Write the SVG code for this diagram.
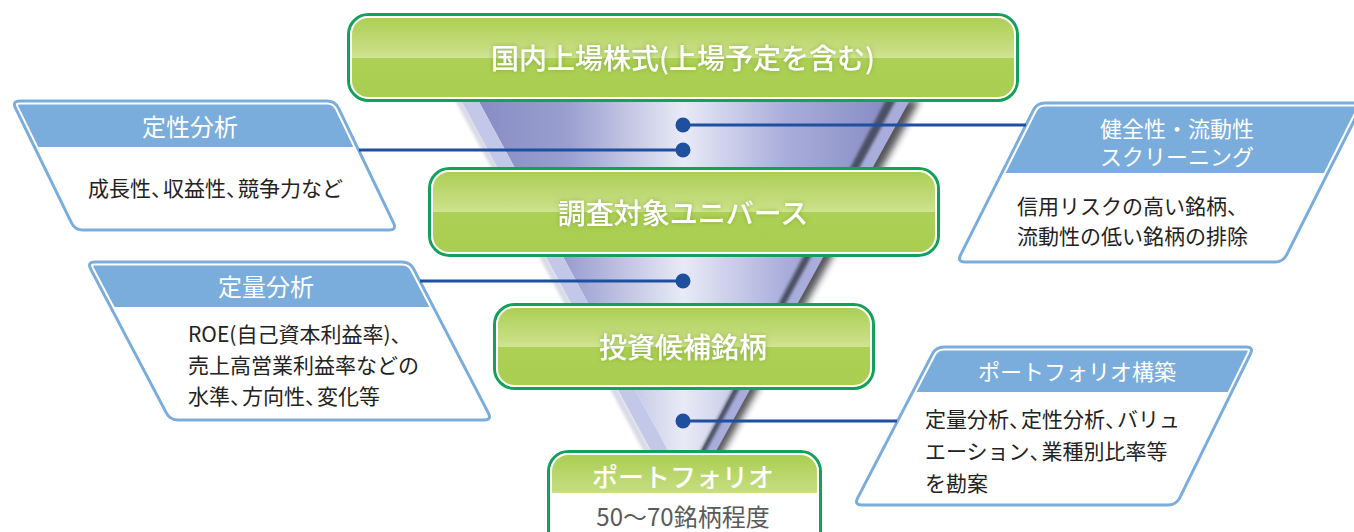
<svg xmlns="http://www.w3.org/2000/svg" width="1354" height="532" viewBox="0 0 1354 532">
<style>
  text { font-family: "Noto Sans CJK JP", "Noto Sans", sans-serif; }
  .gt { fill: #ffffff; font-size: 28px; font-weight: 500; text-anchor: middle; dominant-baseline: central; }
  .ht { fill: #ffffff; font-size: 24px; text-anchor: middle; dominant-baseline: central; }
  .bt { fill: #222222; font-size: 21px; dominant-baseline: central; }
  .cm { letter-spacing: -9px; }
  .gbox { fill: url(#green); stroke: #12a05c; stroke-width: 3; }
  .gin { fill: none; stroke: #ffffff; stroke-width: 2; }
  .pw { fill: #ffffff; }
  .ph { fill: #7aaddc; }
  .pgap { fill: none; stroke: #ffffff; stroke-width: 7; }
  .pb { fill: none; stroke: #7aaddc; stroke-width: 3; }
  .conn { stroke: #1f4f9f; stroke-width: 3; fill: none; }
  .dot { fill: #1f4f9f; }
</style>
<defs>
  <linearGradient id="green" x1="0" y1="0" x2="0" y2="1">
    <stop offset="0" stop-color="#a9ce50"/>
    <stop offset="0.42" stop-color="#c8de83"/>
    <stop offset="0.5" stop-color="#d0e591"/>
    <stop offset="0.505" stop-color="#add156"/>
    <stop offset="1" stop-color="#a8cd4f"/>
  </linearGradient>
  <linearGradient id="funnel" gradientUnits="userSpaceOnUse" x1="478" y1="0" x2="889" y2="0">
    <stop offset="0" stop-color="#878dc4"/>
    <stop offset="0.22" stop-color="#9a9fd0"/>
    <stop offset="0.5" stop-color="#e9eaf6"/>
    <stop offset="0.75" stop-color="#a9addb"/>
    <stop offset="1" stop-color="#868cc3"/>
  </linearGradient>
  <filter id="blur3" x="-20%" y="-20%" width="140%" height="140%">
    <feGaussianBlur stdDeviation="3.5"/>
  </filter>
  <filter id="blur1" x="-20%" y="-20%" width="140%" height="140%">
    <feGaussianBlur stdDeviation="1.5"/>
  </filter>
  <filter id="glow" x="-10%" y="-40%" width="120%" height="180%">
    <feGaussianBlur in="SourceAlpha" stdDeviation="2.5" result="b"/>
    <feFlood flood-color="#5f8a1c" flood-opacity="0.55"/>
    <feComposite operator="in" in2="b" result="g"/>
    <feMerge><feMergeNode in="g"/><feMergeNode in="SourceGraphic"/></feMerge>
  </filter>
  <path id="p1" d="M20,101 L327,101 Q335,101 338.5,108.2 L393.5,222.8 Q397,230 389,230 L83,230 Q75,230 71.5,222.8 L15.5,108.2 Q12,101 20,101 Z"/>
  <path id="p2" d="M95,262 L402,262 Q410,262 413.7,269.1 L488.3,412.9 Q492,420 484,420 L178,420 Q170,420 166.3,412.9 L90.7,269.1 Q87,262 95,262 Z"/>
  <path id="p3" d="M1045,103 L1355,103 Q1363,103 1359.4,110.1 L1286.6,254.9 Q1283,262 1275,262 L965,262 Q957,262 960.6,254.9 L1033.4,110.1 Q1037,103 1045,103 Z"/>
  <path id="p4" d="M944,347 L1246,347 Q1254,347 1250.3,354.1 L1179.7,497.9 Q1176,505 1168,505 L862,505 Q854,505 857.7,497.9 L932.3,354.1 Q936,347 944,347 Z"/>
  <clipPath id="c1"><rect x="0" y="0" width="500" height="147"/></clipPath>
  <clipPath id="c2"><rect x="0" y="200" width="600" height="107"/></clipPath>
  <clipPath id="c3"><rect x="900" y="0" width="454" height="173"/></clipPath>
  <clipPath id="c4"><rect x="800" y="300" width="554" height="92"/></clipPath>
  <clipPath id="cb"><rect x="552" y="455" width="265" height="38"/></clipPath>
</defs>

<g id="funnel-shape">
  <polygon points="455,100 462,100 668,482 660,482" fill="#9096b8" opacity="0.35" filter="url(#blur1)"/>
  <polygon points="900,100 920,100 706,482 692,482" fill="#1e1e24" opacity="0.75" filter="url(#blur3)"/>
  <polygon points="889,100 910,100 699,482 684,482" fill="#a9addb"/>
  <polygon points="478,100 889,100 684,480" fill="url(#funnel)"/>
  <polygon points="461,100 478,100 684,480 668,482" fill="#c3c8e8"/>
  <polygon points="886,100 896,100 689,482 684,482" fill="#4c4f63" filter="url(#blur1)"/>
</g>

<g id="node-top">
  <rect class="gbox" x="348.5" y="14.5" width="669" height="86" rx="20"/>
  <rect class="gin" x="351" y="17" width="664" height="81" rx="17.5"/>
  <text class="gt" x="683" y="57" filter="url(#glow)">国内上場株式(上場予定を含む)</text>
</g>

<g id="node-universe">
  <rect class="gbox" x="429.5" y="168.5" width="509" height="87" rx="20"/>
  <rect class="gin" x="432" y="171" width="504" height="82" rx="17.5"/>
  <text class="gt" x="683" y="212" filter="url(#glow)">調査対象ユニバース</text>
</g>

<g id="node-candidates">
  <rect class="gbox" x="494.5" y="304.5" width="379" height="84" rx="20"/>
  <rect class="gin" x="497" y="307" width="374" height="79" rx="17.5"/>
  <text class="gt" x="683" y="346" filter="url(#glow)">投資候補銘柄</text>
</g>

<g id="node-portfolio">
  <rect x="548.5" y="451.5" width="272" height="100" rx="20" fill="#ffffff" stroke="#12a05c" stroke-width="3"/>
  <rect x="551" y="454" width="267" height="95" rx="17.5" fill="url(#green)" clip-path="url(#cb)"/>
  <rect class="gin" x="551" y="454" width="267" height="95" rx="17.5"/>
  <text class="gt" x="683" y="475" style="font-size:26px">ポートフォリオ</text>
  <text x="683" y="515" style="font-size:24px;fill:#5a5a5a;text-anchor:middle;dominant-baseline:central">50〜70銘柄程度</text>
</g>

<g id="node-qualitative">
  <use href="#p1" class="pw"/>
  <use href="#p1" class="ph" clip-path="url(#c1)"/>
  <use href="#p1" class="pgap"/>
  <use href="#p1" class="pb"/>
  <text class="ht" x="190" y="125">定性分析</text>
  <text class="bt" x="88" y="187">成長性<tspan class="cm">、</tspan>収益性<tspan class="cm">、</tspan>競争力など</text>
</g>

<g id="node-quantitative">
  <use href="#p2" class="pw"/>
  <use href="#p2" class="ph" clip-path="url(#c2)"/>
  <use href="#p2" class="pgap"/>
  <use href="#p2" class="pb"/>
  <text class="ht" x="266" y="285">定量分析</text>
  <text class="bt" x="188" y="333">ROE(自己資本利益率)、</text>
  <text class="bt" x="188" y="364">売上高営業利益率などの</text>
  <text class="bt" x="188" y="395">水準<tspan class="cm">、</tspan>方向性<tspan class="cm">、</tspan>変化等</text>
</g>

<g id="node-screening">
  <use href="#p3" class="pw"/>
  <use href="#p3" class="ph" clip-path="url(#c3)"/>
  <use href="#p3" class="pgap"/>
  <use href="#p3" class="pb"/>
  <text class="ht" style="font-size:22px"><tspan x="1177" y="127">健全性・流動性</tspan><tspan x="1177" y="155">スクリーニング</tspan></text>
  <text class="bt" x="1017" y="205">信用リスクの高い銘柄、</text>
  <text class="bt" x="1017" y="235">流動性の低い銘柄の排除</text>
</g>

<g id="node-construction">
  <use href="#p4" class="pw"/>
  <use href="#p4" class="ph" clip-path="url(#c4)"/>
  <use href="#p4" class="pgap"/>
  <use href="#p4" class="pb"/>
  <text class="ht" x="1077" y="370" style="font-size:22px">ポートフォリオ構築</text>
  <text class="bt" x="925" y="418">定量分析<tspan class="cm">、</tspan>定性分析<tspan class="cm">、</tspan>バリュ</text>
  <text class="bt" x="925" y="450">エーション<tspan class="cm">、</tspan>業種別比率等</text>
  <text class="bt" x="925" y="482">を勘案</text>
</g>

<g id="connectors">
  <line class="conn" x1="683" y1="125" x2="1026" y2="125"/>
  <line class="conn" x1="359" y1="150" x2="683" y2="150"/>
  <line class="conn" x1="420" y1="281" x2="683" y2="281"/>
  <line class="conn" x1="683" y1="421" x2="897" y2="421"/>
  <circle class="dot" cx="683" cy="125" r="7.5"/>
  <circle class="dot" cx="683" cy="150" r="7.5"/>
  <circle class="dot" cx="683" cy="281" r="7.5"/>
  <circle class="dot" cx="683" cy="421" r="7.5"/>
</g>
</svg>
